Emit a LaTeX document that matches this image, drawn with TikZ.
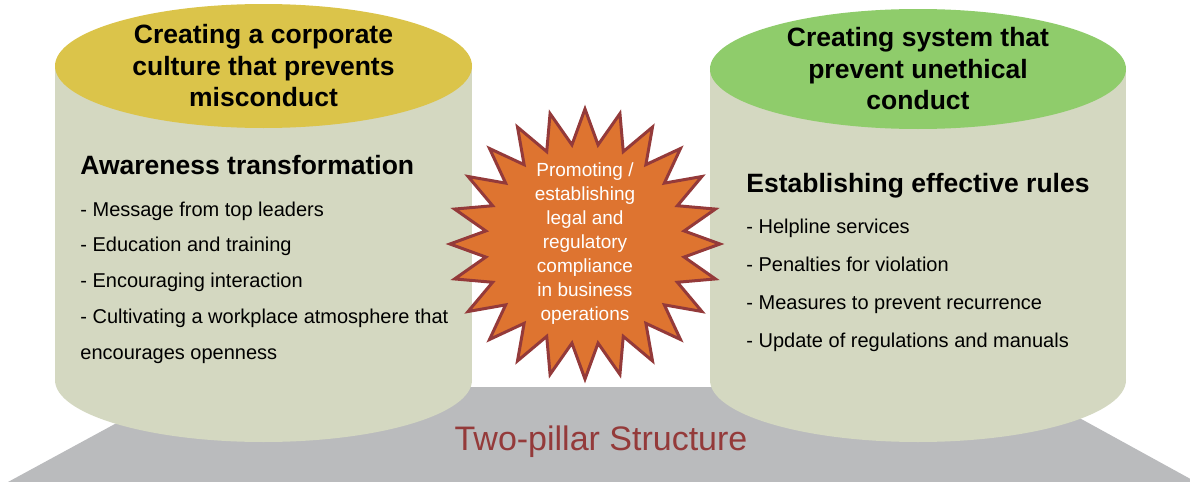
\documentclass[tikz,border=0pt]{standalone}
\usepackage{fontspec}
\setmainfont{Liberation Sans}
\usetikzlibrary{shapes.geometric}
\definecolor{pillarbody}{RGB}{212,216,193}
\definecolor{leftcap}{RGB}{219,196,74}
\definecolor{rightcap}{RGB}{143,204,107}
\definecolor{basegray}{RGB}{186,187,189}
\definecolor{burstfill}{RGB}{222,116,48}
\definecolor{burstline}{RGB}{148,58,58}
\begin{document}
\begin{tikzpicture}[x=0.5pt,y=-0.5pt]

    \tikzset{
      pillar/.style={fill=pillarbody},
      captitle/.style={
        align=center,
        inner sep=0pt,
        font=\bfseries\fontsize{13.25}{15.75}\selectfont,
      },
      heading/.style={
        anchor=base west,
        inner sep=0pt,
        font=\bfseries\fontsize{13.25}{16}\selectfont,
      },
      itemlist/.style={
        anchor=base west,
        align=left,
        inner sep=0pt,
      },
      starburst/.style={
        star,
        star points=24,
        star point ratio=1.35,
        minimum size=135pt,
        inner sep=0pt,
        fill=burstfill,
        draw=burstline,
        line width=1.5pt,
      },
    }
    \useasboundingbox (0,0) rectangle (1190,482);
    \fill[basegray] (183,387) -- (1023,387) -- (1196,482) -- (8,482) -- cycle;
    \node[text=burstline, font=\fontsize{17}{20}\selectfont] (basetitle) at (601,442) {Two-pillar Structure};

    % left pillar
    \fill[pillar] (55,66) rectangle (472,380);
    \fill[pillar] (263.5,380) ellipse [x radius=208.5, y radius=62];
    \fill[leftcap] (263.5,66) ellipse [x radius=208.5, y radius=62];
    \node[captitle] (lefttitle) at (263.5,66) {Creating a corporate\\culture that prevents\\misconduct};
    \node[heading] (leftheading) at (80,174) {Awareness transformation};
    % base anchor of a multi-line node sits on its last line
    \node[itemlist, font=\fontsize{10}{17.85}\selectfont] (leftitems) at (80,359)
      {- Message from top leaders\\- Education and training\\- Encouraging interaction\\- Cultivating a workplace atmosphere that\\encourages openness};

    % right pillar
    \fill[pillar] (710,69) rectangle (1126,380);
    \fill[pillar] (918,380) ellipse [x radius=208, y radius=62];
    \fill[rightcap] (918,69) ellipse [x radius=208, y radius=60];
    \node[captitle] (righttitle) at (918,69) {Creating system that\\prevent unethical\\conduct};
    \node[heading] (rightheading) at (746,192) {Establishing effective rules};
    \node[itemlist, font=\fontsize{10}{19}\selectfont] (rightitems) at (746,347)
      {- Helpline services\\- Penalties for violation\\- Measures to prevent recurrence\\- Update of regulations and manuals};

    % centre
    \node[starburst] (burst) at (585,244) {};
    \node[align=center, text=white, font=\fontsize{9.5}{12}\selectfont] (bursttext) at (burst.center)
      {Promoting /\\establishing\\legal and\\regulatory\\compliance\\in business\\operations};

\end{tikzpicture}
\end{document}
